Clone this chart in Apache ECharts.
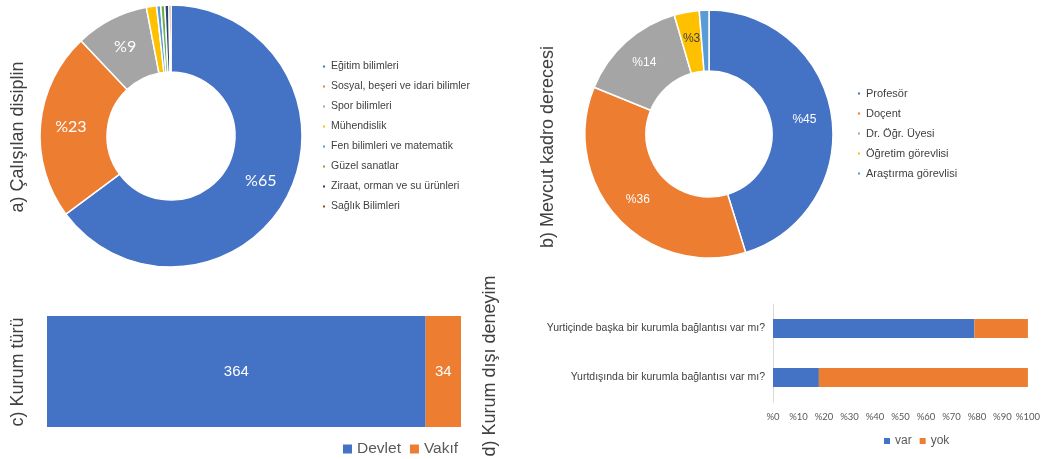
<!DOCTYPE html>
<html><head><meta charset="utf-8">
<script src="https://cdn.jsdelivr.net/npm/echarts@6/dist/echarts.min.js"></script>
<style>html,body{margin:0;padding:0;background:#fff}#c{width:1043px;height:459px}</style>
</head><body><div id="c"></div>
<script>
// ---- data ----
const disciplineNames = ['Eğitim bilimleri','Sosyal, beşeri ve idari bilimler','Spor bilimleri','Mühendislik','Fen bilimleri ve matematik','Güzel sanatlar','Ziraat, orman ve su ürünleri','Sağlık Bilimleri'];
const disciplineValues = [258, 92, 36, 5, 2, 2, 2, 1];
const rankNames = ['Profesör','Doçent','Dr. Öğr. Üyesi','Öğretim görevlisi','Araştırma görevlisi'];
const rankValues = [180, 143, 57, 13, 5];
const instNames = ['Devlet','Vakıf'];
const instValues = [364, 34];
const expQuestions = ['Yurtdışında bir kurumla bağlantısı var mı?','Yurtiçinde başka bir kurumla bağlantısı var mı?'];
const expVar = [18, 79];
const expYok = [82, 21];
const titles = ['a) Çalışılan disiplin','b) Mevcut kadro derecesi','c) Kurum türü','d) Kurum dışı deneyim'];

// ---- styling ----
const palette = ['#4472C4','#ED7D31','#A5A5A5','#FFC000','#5B9BD5','#70AD47','#264478','#9E480E'];
const F = '"Liberation Sans", Arial, sans-serif';
const chart = echarts.init(document.getElementById('c'), null, {renderer:'canvas'});

function pieData(names, vals, darkLabel){
  return names.map((n,i)=>({name:n, value:vals[i], itemStyle:{color:palette[i]},
    label: darkLabel===n ? {color:'#404040'} : undefined}));
}
const pctFmt = p => p.percent < 2.5 ? '' : '%' + Math.round(p.percent);

function vtitle(text, x, y){
  return {type:'text', x:x, y:y, rotation:Math.PI/2,
    style:{text:text, font:'18px '+F, fill:'#404040', textAlign:'center', textVerticalAlign:'middle'}};
}

const option = {
  animation:false,
  textStyle:{fontFamily:F},
  graphic: [vtitle(titles[0],18,137), vtitle(titles[1],548,147), vtitle(titles[2],18,372), vtitle(titles[3],490,366)],
  legend: [
    {data:disciplineNames, orient:'vertical', left:316, top:55, icon:'rect', itemWidth:4, itemHeight:4, itemGap:7,
     textStyle:{fontSize:10.5, color:'#404040', fontFamily:F, lineHeight:13}},
    {data:rankNames, orient:'vertical', left:851, top:82, icon:'rect', itemWidth:4, itemHeight:4, itemGap:7,
     textStyle:{fontSize:11, color:'#404040', fontFamily:F, lineHeight:13}},
    {data:instNames, left:338, top:436, icon:'rect', itemWidth:9, itemHeight:9, itemGap:9,
     textStyle:{fontSize:15.5, color:'#595959', fontFamily:F}},
    {data:['var','yok'], left:879, top:430, icon:'rect', itemWidth:6, itemHeight:6, itemGap:8,
     textStyle:{fontSize:12, color:'#595959', fontFamily:F}}
  ],
  grid: [
    {left:47, width:414, top:316, height:111},
    {left:773, width:255, top:304, height:98}
  ],
  xAxis: [
    {gridIndex:0, type:'value', min:0, max:instValues.reduce((a,b)=>a+b,0), show:false},
    {gridIndex:1, type:'value', min:0, max:100, interval:10,
     axisLine:{show:false}, axisTick:{show:false}, splitLine:{show:false},
     axisLabel:{formatter:'%{value}', fontSize:9.5, color:'#595959', fontFamily:'Lato', margin:10}}
  ],
  yAxis: [
    {gridIndex:0, type:'category', data:['Kurum türü'], show:false},
    {gridIndex:1, type:'category', data:expQuestions,
     axisLine:{show:true, lineStyle:{color:'#D9D9D9'}}, axisTick:{show:false},
     axisLabel:{fontSize:10.5, color:'#404040', fontFamily:F, margin:8}}
  ],
  series: [
    {type:'pie', center:[171,136], radius:[64,131], startAngle:90, data:pieData(disciplineNames, disciplineValues),
     itemStyle:{borderColor:'#fff', borderWidth:1.5},
     label:{show:true, position:'inside', formatter:pctFmt, color:'#fff', fontSize:16, fontFamily:'Lato'},
     labelLine:{show:false}, emphasis:{disabled:true}},
    {type:'pie', center:[709,134], radius:[63,124], startAngle:90, data:pieData(rankNames, rankValues, 'Öğretim görevlisi'),
     itemStyle:{borderColor:'#fff', borderWidth:1.5},
     label:{show:true, position:'inside', formatter:pctFmt, color:'#fff', fontSize:12, fontFamily:F},
     labelLine:{show:false}, emphasis:{disabled:true}},
    {type:'bar', name:instNames[0], xAxisIndex:0, yAxisIndex:0, stack:'c', data:[instValues[0]], barWidth:'100%',
     itemStyle:{color:palette[0]}, label:{show:true, position:'inside', color:'#fff', fontSize:15, fontFamily:F}},
    {type:'bar', name:instNames[1], xAxisIndex:0, yAxisIndex:0, stack:'c', data:[instValues[1]], barWidth:'100%',
     itemStyle:{color:palette[1]}, label:{show:true, position:'inside', color:'#fff', fontSize:15, fontFamily:F}},
    {type:'bar', name:'var', xAxisIndex:1, yAxisIndex:1, stack:'d', data:expVar, barWidth:19, itemStyle:{color:palette[0]}},
    {type:'bar', name:'yok', xAxisIndex:1, yAxisIndex:1, stack:'d', data:expYok, barWidth:19, itemStyle:{color:palette[1]}}
  ]
};
chart.setOption(option);
</script></body></html>
